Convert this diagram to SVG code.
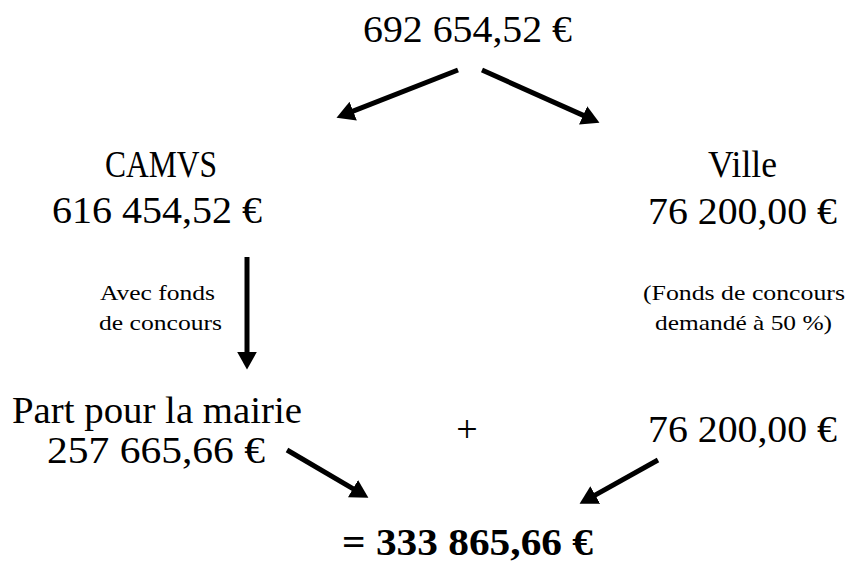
<svg xmlns="http://www.w3.org/2000/svg" width="846" height="563" viewBox="0 0 846 563">
<style>
text{font-family:"Liberation Serif","Times New Roman",serif;fill:#000}
.big{font-size:38px}
.small{font-size:21px}
.bold{font-weight:bold}
.arrow{stroke:#000;stroke-width:5;fill:none;marker-end:url(#head)}
</style>
<defs>
<marker id="head" markerUnits="userSpaceOnUse" markerWidth="18" markerHeight="20" viewBox="0 0 17 19" refX="6" refY="9.5" orient="auto">
<path d="M0,0 L17,9.5 L0,19 z" fill="#000"/>
</marker>
</defs>
<rect width="846" height="563" fill="#fff"/>
<g id="total">
<text class="big" x="363" y="42" textLength="209" lengthAdjust="spacingAndGlyphs">692 654,52 €</text>
</g>
<g id="camvs">
<text class="big" x="105" y="177" textLength="112" lengthAdjust="spacingAndGlyphs">CAMVS</text>
<text class="big" x="52" y="223" textLength="210" lengthAdjust="spacingAndGlyphs">616 454,52 €</text>
</g>
<g id="ville">
<text class="big" x="708" y="177" textLength="69" lengthAdjust="spacingAndGlyphs">Ville</text>
<text class="big" x="648" y="224" textLength="189" lengthAdjust="spacingAndGlyphs">76 200,00 €</text>
</g>
<g id="note-ville">
<text class="small" x="643" y="300" textLength="202" lengthAdjust="spacingAndGlyphs">(Fonds de concours</text>
<text class="small" x="655" y="330" textLength="177" lengthAdjust="spacingAndGlyphs">demandé à 50 %)</text>
</g>
<g id="note-camvs">
<text class="small" x="100" y="300" textLength="115" lengthAdjust="spacingAndGlyphs">Avec fonds</text>
<text class="small" x="99" y="330" textLength="123" lengthAdjust="spacingAndGlyphs">de concours</text>
</g>
<g id="mairie">
<text class="big" x="12" y="423" textLength="290" lengthAdjust="spacingAndGlyphs">Part pour la mairie</text>
<text class="big" x="47" y="463" textLength="218" lengthAdjust="spacingAndGlyphs">257 665,66 €</text>
</g>
<g id="plus">
<text class="big" x="467" y="442" text-anchor="middle">+</text>
</g>
<g id="ville-part">
<text class="big" x="648" y="442" textLength="189" lengthAdjust="spacingAndGlyphs">76 200,00 €</text>
</g>
<g id="result">
<text class="big bold" x="342" y="555" textLength="251" lengthAdjust="spacingAndGlyphs">= 333 865,66 €</text>
</g>
<g id="connectors">
<line class="arrow" x1="458" y1="70" x2="347.3" y2="113.4"/>
<line class="arrow" x1="482" y1="70" x2="588.9" y2="117.9"/>
<line class="arrow" x1="247" y1="257" x2="247" y2="358"/>
<line class="arrow" x1="287" y1="450" x2="358.4" y2="491.9"/>
<line class="arrow" x1="658" y1="460" x2="589.7" y2="498.1"/>
</g>
</svg>
